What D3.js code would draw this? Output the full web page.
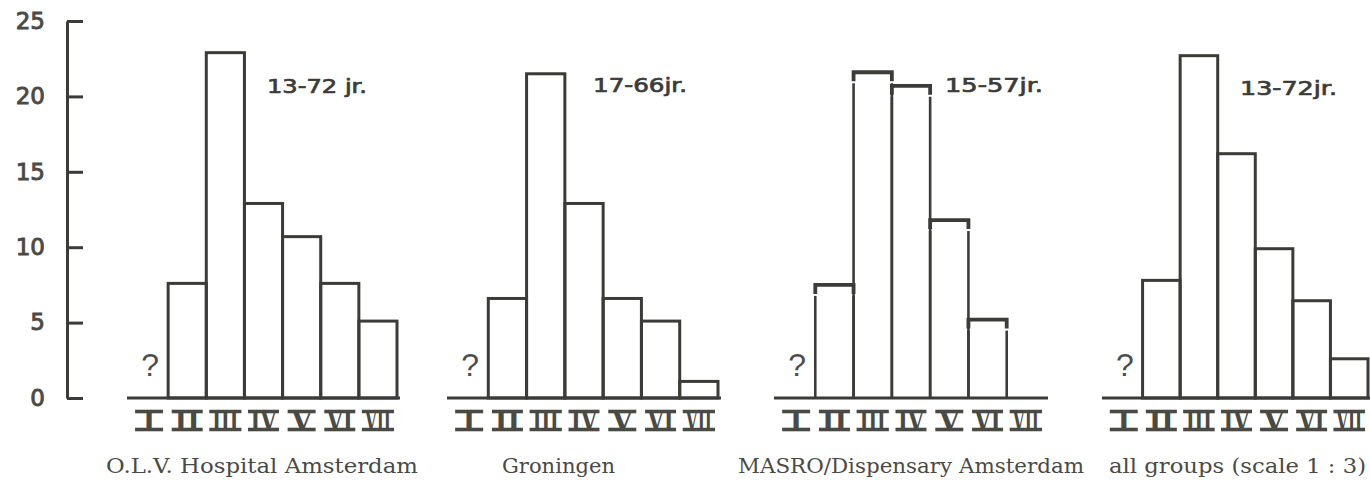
<!DOCTYPE html>
<html>
<head>
<meta charset="utf-8">
<script src="https://cdn.jsdelivr.net/npm/d3@7/dist/d3.min.js"></script>
<style>
  html, body { margin: 0; padding: 0; background: #ffffff; }
  svg { display: block; }
</style>
</head>
<body>
<svg id="chart" width="1370" height="482"></svg>
<script>
// ---------- data ----------
const categories = ["I", "II", "III", "IV", "V", "VI", "VII"];
const groupNames = ["O.L.V. Hospital Amsterdam", "Groningen", "MASRO/Dispensary Amsterdam", "all groups (scale 1 : 3)"];
const ageRanges = ["13-72 jr.", "17-66jr.", "15-57jr.", "13-72jr."];
const olvValues = [null, 7.6, 22.9, 12.9, 10.7, 7.6, 5.1];
const groningenValues = [null, 6.6, 21.5, 12.9, 6.6, 5.1, 1.1];
const masroValues = [null, 7.5, 21.6, 20.7, 11.8, 5.2, 0];
const allGroupsValues = [null, 7.8, 22.7, 16.2, 9.9, 6.45, 2.6];
const yTicks = [0, 5, 10, 15, 20, 25];
const unknownMark = "?";

// ---------- layout ----------
const ink = "#3b3b38";
const textInk = "#4a4a44";
const panelX = [130, 450, 777, 1105];
const panelW = [267, 268, 268, 263];
const titleX = [106, 502, 738, 1109];
const titleW = [312, 113, 346, 257];
const ageX = [267, 593, 945, 1240];
const ageW = [100, 94, 98, 97];
const ageY = [93, 92, 92, 95];
const panelStyle = ["box", "box", "bracket", "box"];
const series = [olvValues, groningenValues, masroValues, allGroupsValues];

const svg = d3.select("#chart");
const y = d3.scaleLinear().domain([0, 25]).range([398, 21]);

// y axis
const yAxis = d3.axisLeft(y).tickValues(yTicks).tickSizeInner(-16).tickSizeOuter(0).tickPadding(22);
const ax = svg.append("g").attr("transform", "translate(67,0)").call(yAxis);
ax.select(".domain").attr("stroke", ink).attr("stroke-width", 3);
ax.selectAll(".tick line").attr("stroke", ink).attr("stroke-width", 3);
ax.selectAll(".tick text")
  .attr("fill", textInk)
  .attr("stroke", textInk).attr("stroke-width", 0.9)
  .style("font-family", "'DejaVu Sans', sans-serif")
  .style("font-size", "23px");

series.forEach((vals, p) => {
  const x = d3.scaleBand().domain(categories).range([panelX[p], panelX[p] + panelW[p]]).paddingInner(0).paddingOuter(0);
  const g = svg.append("g");
  const bw = x.bandwidth();

  // bars
  const data = categories.map((c, i) => ({ c, v: vals[i] }));
  const bars = data.filter(d => d.v !== null && d.v > 0);
  if (panelStyle[p] === "box") {
    g.selectAll("rect.bar").data(bars).enter().append("rect")
      .attr("class", "bar")
      .attr("x", d => x(d.c))
      .attr("y", d => y(d.v))
      .attr("width", bw)
      .attr("height", d => y(0) - y(d.v))
      .attr("fill", "none")
      .attr("stroke", ink)
      .attr("stroke-width", 3);
  } else {
    g.selectAll("line.side").data(bars.flatMap(d => [{ x: x(d.c), v: d.v }, { x: x(d.c) + bw, v: d.v }]))
      .enter().append("line")
      .attr("x1", d => d.x).attr("x2", d => d.x)
      .attr("y1", y(0)).attr("y2", d => y(d.v) + 11)
      .attr("stroke", ink).attr("stroke-width", 2.6);
    g.selectAll("path.top").data(bars).enter().append("path")
      .attr("d", d => `M${x(d.c)},${y(d.v) + 9}V${y(d.v)}H${x(d.c) + bw}V${y(d.v) + 9}`)
      .attr("fill", "none")
      .attr("stroke", ink).attr("stroke-width", 3.8);
  }

  // baseline
  g.append("line")
    .attr("x1", panelX[p] - 3).attr("x2", Math.min(1370, panelX[p] + panelW[p] + 3))
    .attr("y1", y(0)).attr("y2", y(0))
    .attr("stroke", ink).attr("stroke-width", 3);

  // unknown marks
  g.selectAll("text.q").data(data.filter(d => d.v === null)).enter().append("text")
    .attr("x", d => x(d.c) + bw / 2 + 1)
    .attr("y", 376)
    .attr("text-anchor", "middle")
    .attr("fill", "#4d4d4d")
    .style("font-family", "'Liberation Sans', sans-serif")
    .style("font-size", "32px")
    .text(unknownMark);

  // roman numerals
  const nums = g.selectAll("g.num").data(categories).enter().append("g")
    .attr("transform", c => `translate(${x(c) + bw / 2},0)`);
  nums.append("text")
    .attr("y", 431)
    .attr("text-anchor", "middle")
    .attr("fill", textInk)
    .style("font-family", "'DejaVu Serif', serif")
    .style("font-weight", "bold")
    .style("font-size", "27px")
    .text(c => c)
    .each(function () {
      const w = this.getComputedTextLength();
      const sx = Math.min(1, 26 / w);
      d3.select(this).attr("transform", `scale(${sx},1)`);
    });
  nums.each(function (c) {
    const w = Math.min(bw - 6, 25 + c.length * 3);
    const s = d3.select(this);
    [411.5, 429.5].forEach(yy => s.append("line")
      .attr("x1", -w / 2).attr("x2", w / 2).attr("y1", yy).attr("y2", yy)
      .attr("stroke", textInk).attr("stroke-width", 3.6));
  });

  // age range label
  g.append("text")
    .attr("x", ageX[p]).attr("y", ageY[p])
    .attr("fill", ink)
    .attr("stroke", ink).attr("stroke-width", 0.7)
    .attr("textLength", ageW[p]).attr("lengthAdjust", "spacingAndGlyphs")
    .style("font-family", "'DejaVu Sans', sans-serif")
    .style("font-size", "19px")
    .text(ageRanges[p]);

  // group title
  g.append("text")
    .attr("x", titleX[p]).attr("y", 473)
    .attr("fill", textInk)
    .attr("textLength", titleW[p]).attr("lengthAdjust", "spacingAndGlyphs")
    .style("font-family", "'DejaVu Serif', serif")
    .style("font-size", "21px")
    .text(groupNames[p]);
});
</script>
</body>
</html>
